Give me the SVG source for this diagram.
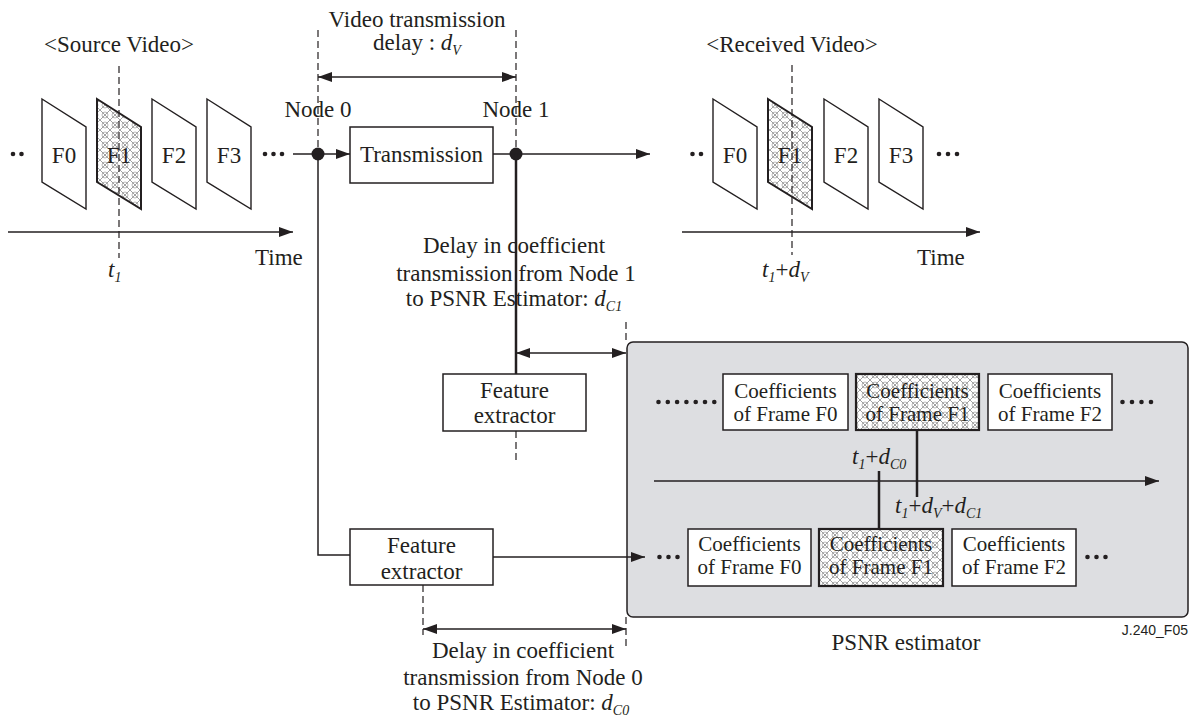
<svg xmlns="http://www.w3.org/2000/svg" width="1196" height="722" viewBox="0 0 1196 722">
  <style>
    text { font-family: "Liberation Serif", "Times New Roman", serif; font-size: 23px; fill: #231f20; }
    .coef { font-size: 21px; }
    .mid { text-anchor: middle; }
    .it { font-style: italic; }
    .sub { font-size: 14px; font-style: italic; }
    .ln { fill: none; stroke: #231f20; stroke-width: 1.5; }
    .thick { fill: none; stroke: #231f20; stroke-width: 2.5; }
    .dash { fill: none; stroke: #231f20; stroke-width: 1.2; stroke-dasharray: 7 4; }
    .box { fill: #ffffff; stroke: #231f20; stroke-width: 1.5; }
    .hbox { fill: url(#hatch); stroke: #231f20; stroke-width: 2.2; }
    .frame { fill: #ffffff; stroke: #231f20; stroke-width: 1.4; }
    .hframe { fill: url(#hatch); stroke: #231f20; stroke-width: 2; }
    .dot { fill: #231f20; }
    .tag { font-family: "Liberation Sans", Arial, sans-serif; font-size: 14px; }
  </style>
  <defs>
    <marker id="arr" markerUnits="userSpaceOnUse" markerWidth="14" markerHeight="10" refX="14" refY="5" orient="auto-start-reverse">
      <path d="M0,0 L14,5 L0,10 Z" fill="#231f20"/>
    </marker>
    <pattern id="hatch" patternUnits="userSpaceOnUse" width="10" height="10">
      <rect width="10" height="10" fill="#ffffff"/>
      <path d="M0,0 L10,10 M10,0 L0,10" stroke="#8a8a8a" stroke-width="0.8" fill="none"/>
      <circle cx="5" cy="5" r="3" stroke="#9a9a9a" stroke-width="0.7" fill="none"/>
    </pattern>
  </defs>

  <!-- source video sequence -->
  <g id="source-video">
    <text class="mid" x="119" y="52">&lt;Source Video&gt;</text>
    <circle class="dot" cx="13" cy="154" r="2.3"/>
    <circle class="dot" cx="21.5" cy="154" r="2.3"/>
    <path class="frame" d="M42,99 L86,127 L86,209 L42,182 Z"/>
    <path class="hframe" d="M97,99 L141,127 L141,209 L97,182 Z"/>
    <path class="frame" d="M152,99 L196,127 L196,209 L152,182 Z"/>
    <path class="frame" d="M207,99 L251,127 L251,209 L207,182 Z"/>
    <text class="mid" x="64" y="163">F0</text>
    <text class="mid" x="119" y="163" fill="#3a3a3a">F1</text>
    <text class="mid" x="174" y="163">F2</text>
    <text class="mid" x="229" y="163">F3</text>
    <circle class="dot" cx="265" cy="154" r="2.3"/>
    <circle class="dot" cx="273.5" cy="154" r="2.3"/>
    <circle class="dot" cx="282" cy="154" r="2.3"/>
    <line class="ln" x1="8" y1="232" x2="293" y2="232" marker-end="url(#arr)"/>
    <line class="dash" x1="119" y1="66" x2="119" y2="258"/>
    <text x="255" y="265">Time</text>
    <text class="it" x="108" y="277">t<tspan class="sub" dy="5">1</tspan></text>
  </g>

  <!-- node 0 -->
  <g id="node0">
    <line class="dash" x1="318" y1="30" x2="318" y2="154"/>
    <text class="mid" x="318" y="117">Node 0</text>
    <circle class="dot" cx="318" cy="154" r="6.5"/>
  </g>

  <!-- node 1 -->
  <g id="node1">
    <line class="dash" x1="516" y1="30" x2="516" y2="154"/>
    <text class="mid" x="516" y="117">Node 1</text>
    <circle class="dot" cx="516" cy="154" r="6.5"/>
  </g>

  <!-- transmission block -->
  <g id="transmission">
    <rect class="box" x="350" y="127" width="143" height="56"/>
    <text class="mid" x="421.5" y="162">Transmission</text>
  </g>

  <!-- video delay annotation -->
  <g id="video-delay">
    <text class="mid" x="417" y="27">Video transmission</text>
    <text class="mid" x="417" y="50">delay : <tspan class="it">d</tspan><tspan class="sub" dy="5">V</tspan></text>
  </g>

  <!-- received video sequence -->
  <g id="received-video">
    <text class="mid" x="792" y="52">&lt;Received Video&gt;</text>
    <circle class="dot" cx="692.5" cy="154" r="2.3"/>
    <circle class="dot" cx="701" cy="154" r="2.3"/>
    <path class="frame" d="M713,99 L757,127 L757,209 L713,182 Z"/>
    <path class="hframe" d="M768,99 L812,127 L812,209 L768,182 Z"/>
    <path class="frame" d="M824,99 L868,127 L868,209 L824,182 Z"/>
    <path class="frame" d="M879,99 L923,127 L923,209 L879,182 Z"/>
    <text class="mid" x="735" y="163">F0</text>
    <text class="mid" x="790" y="163" fill="#3a3a3a">F1</text>
    <text class="mid" x="846" y="163">F2</text>
    <text class="mid" x="901" y="163">F3</text>
    <circle class="dot" cx="939" cy="154" r="2.3"/>
    <circle class="dot" cx="948" cy="154" r="2.3"/>
    <circle class="dot" cx="957" cy="154" r="2.3"/>
    <line class="ln" x1="682" y1="232" x2="980" y2="232" marker-end="url(#arr)"/>
    <line class="dash" x1="792" y1="65" x2="792" y2="255"/>
    <text x="917" y="265">Time</text>
    <text class="it" x="762" y="277">t<tspan class="sub" dy="5">1</tspan><tspan dy="-5" font-style="normal">+</tspan>d<tspan class="sub" dy="5">V</tspan></text>
  </g>

  <!-- feature extractor at node 1 -->
  <g id="feature-extractor-1">
    <rect class="box" x="443" y="374" width="143" height="57"/>
    <text class="mid" x="514.5" y="398">Feature</text>
    <text class="mid" x="514.5" y="423">extractor</text>
  </g>

  <!-- feature extractor at node 0 -->
  <g id="feature-extractor-0">
    <rect class="box" x="350" y="529" width="143" height="56"/>
    <text class="mid" x="421.5" y="553">Feature</text>
    <text class="mid" x="421.5" y="579">extractor</text>
  </g>

  <!-- coefficient delay annotations -->
  <g id="delay-c1">
    <text class="mid" x="514" y="253">Delay in coefficient</text>
    <text class="mid" x="516" y="281">transmission from Node 1</text>
    <text class="mid" x="514" y="306">to PSNR Estimator: <tspan class="it">d</tspan><tspan class="sub" dy="5">C1</tspan></text>
    <line class="dash" x1="626" y1="322" x2="626" y2="342"/>
    <line class="dash" x1="516" y1="431" x2="516" y2="460"/>
  </g>
  <g id="delay-c0">
    <line class="dash" x1="423" y1="585" x2="423" y2="635"/>
    <line class="dash" x1="626" y1="617" x2="626" y2="647"/>
    <text class="mid" x="523" y="658">Delay in coefficient</text>
    <text class="mid" x="523" y="685">transmission from Node 0</text>
    <text class="mid" x="521" y="710">to PSNR Estimator: <tspan class="it">d</tspan><tspan class="sub" dy="5">C0</tspan></text>
  </g>

  <!-- PSNR estimator -->
  <g id="psnr-estimator">
    <rect x="627" y="342" width="561" height="275" rx="6" fill="#dddee1" stroke="#231f20" stroke-width="1.5"/>

    <!-- coefficients arriving from node 1 -->
    <circle class="dot" cx="658.5" cy="402" r="2.3"/>
    <circle class="dot" cx="667.8" cy="402" r="2.3"/>
    <circle class="dot" cx="677.1" cy="402" r="2.3"/>
    <circle class="dot" cx="686.4" cy="402" r="2.3"/>
    <circle class="dot" cx="695.7" cy="402" r="2.3"/>
    <circle class="dot" cx="705" cy="402" r="2.3"/>
    <circle class="dot" cx="714.3" cy="402" r="2.3"/>
    <rect class="box" x="723" y="374" width="125" height="56"/>
    <text class="mid coef" x="785.5" y="398">Coefficients</text>
    <text class="mid coef" x="785.5" y="421">of Frame F0</text>
    <rect class="hbox" x="856" y="374" width="123" height="56"/>
    <text class="mid coef" x="917.5" y="398" fill="#3a3a3a">Coefficients</text>
    <text class="mid coef" x="917.5" y="421" fill="#3a3a3a">of Frame F1</text>
    <rect class="box" x="988" y="374" width="124" height="56"/>
    <text class="mid coef" x="1050" y="398">Coefficients</text>
    <text class="mid coef" x="1050" y="421">of Frame F2</text>
    <circle class="dot" cx="1122.5" cy="402" r="2.3"/>
    <circle class="dot" cx="1132" cy="402" r="2.3"/>
    <circle class="dot" cx="1141.5" cy="402" r="2.3"/>
    <circle class="dot" cx="1151" cy="402" r="2.3"/>

    <!-- time axis -->
    <line class="ln" x1="654" y1="481" x2="1159" y2="481" marker-end="url(#arr)"/>
    <line class="thick" x1="917" y1="430" x2="917" y2="497" stroke-width="2"/>
    <line class="thick" x1="879" y1="471" x2="879" y2="529" stroke-width="2"/>
    <text class="it" x="852" y="464">t<tspan class="sub" dy="5">1</tspan><tspan dy="-5" font-style="normal">+</tspan>d<tspan class="sub" dy="5">C0</tspan></text>
    <text class="it" x="895" y="513">t<tspan class="sub" dy="5">1</tspan><tspan dy="-5" font-style="normal">+</tspan>d<tspan class="sub" dy="5">V</tspan><tspan dy="-5" font-style="normal">+</tspan>d<tspan class="sub" dy="5">C1</tspan></text>

    <!-- coefficients arriving from node 0 -->
    <circle class="dot" cx="659.5" cy="557" r="2.3"/>
    <circle class="dot" cx="668.5" cy="557" r="2.3"/>
    <circle class="dot" cx="677.5" cy="557" r="2.3"/>
    <rect class="box" x="688" y="529" width="123" height="57"/>
    <text class="mid coef" x="749.5" y="551">Coefficients</text>
    <text class="mid coef" x="749.5" y="574">of Frame F0</text>
    <rect class="hbox" x="819" y="529" width="124" height="57"/>
    <text class="mid coef" x="881" y="551" fill="#3a3a3a">Coefficients</text>
    <text class="mid coef" x="881" y="574" fill="#3a3a3a">of Frame F1</text>
    <rect class="box" x="952" y="529" width="124" height="57"/>
    <text class="mid coef" x="1014" y="551">Coefficients</text>
    <text class="mid coef" x="1014" y="574">of Frame F2</text>
    <circle class="dot" cx="1087.5" cy="557" r="2.3"/>
    <circle class="dot" cx="1096.5" cy="557" r="2.3"/>
    <circle class="dot" cx="1105.5" cy="557" r="2.3"/>

    <text class="mid" x="906" y="650">PSNR estimator</text>
  </g>

  <text class="tag" x="1188" y="635" text-anchor="end">J.240_F05</text>

  <!-- connectors -->
  <g id="connectors">
    <line class="ln" x1="293" y1="154" x2="318" y2="154"/>
    <line class="ln" x1="318" y1="154" x2="350" y2="154" marker-end="url(#arr)"/>
    <line class="ln" x1="493" y1="154" x2="650" y2="154" marker-end="url(#arr)"/>
    <line class="ln" x1="318" y1="77" x2="516" y2="77" marker-start="url(#arr)" marker-end="url(#arr)"/>
    <line class="thick" x1="516" y1="154" x2="516" y2="374"/>
    <line class="ln" x1="516" y1="353" x2="626" y2="353" marker-start="url(#arr)" marker-end="url(#arr)"/>
    <path class="ln" d="M318,154 V555 H350"/>
    <line class="ln" x1="493" y1="557" x2="645" y2="557" marker-end="url(#arr)"/>
    <line class="ln" x1="423" y1="629" x2="626" y2="629" marker-start="url(#arr)" marker-end="url(#arr)"/>
  </g>
</svg>
